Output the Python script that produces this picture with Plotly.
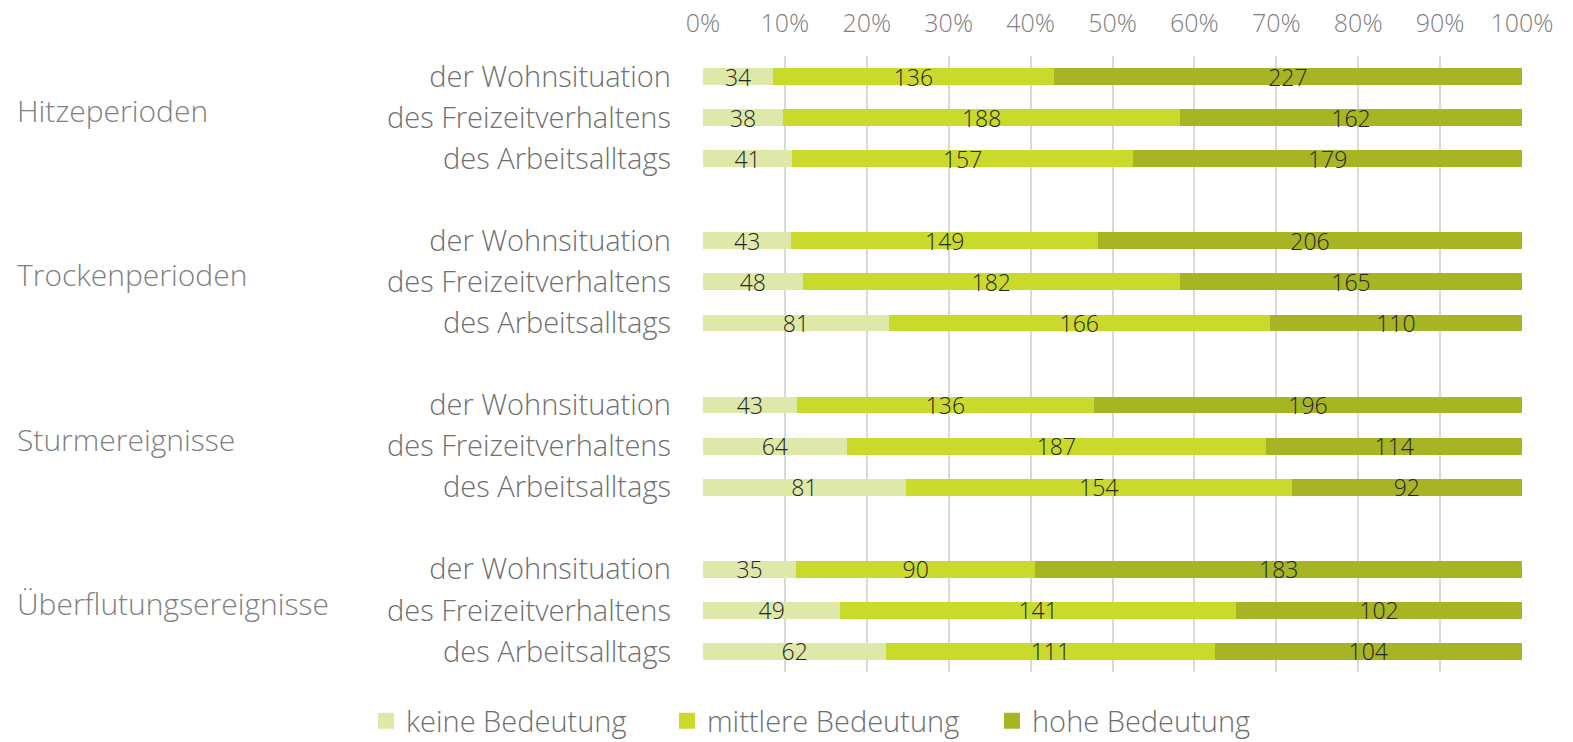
import plotly.graph_objects as go

groups = ["Hitzeperioden", "Trockenperioden", "Sturmereignisse", "Überflutungsereignisse"]
subcats = ["der Wohnsituation", "des Freizeitverhaltens", "des Arbeitsalltags"]
series_names = ["keine Bedeutung", "mittlere Bedeutung", "hohe Bedeutung"]
colors = ["#DDE8A9", "#CADA2C", "#A7B424"]

keine = [34, 38, 41, 43, 48, 81, 43, 64, 81, 35, 49, 62]
mittlere = [136, 188, 157, 149, 182, 166, 136, 187, 154, 90, 141, 111]
hohe = [227, 162, 179, 206, 165, 110, 196, 114, 92, 183, 102, 104]

tick_vals = [0, 10, 20, 30, 40, 50, 60, 70, 80, 90, 100]
tick_text = ["0%", "10%", "20%", "30%", "40%", "50%", "60%", "70%", "80%", "90%", "100%"]

FONT = "Open Sans"
W, H = 1573, 742
ML, MR, MT, MB = 695, 59, 48, 78
PW = W - ML - MR

ypos = []
ylabels = []
for gi, g in enumerate(groups):
    for si, s in enumerate(subcats):
        ypos.append(gi * 4 + si)
        ylabels.append(s)

fig = go.Figure()
for name, vals, col in zip(series_names, [keine, mittlere, hohe], colors):
    fig.add_trace(go.Bar(
        y=ypos, x=vals, orientation="h", name=name,
        marker=dict(color=col, line=dict(width=0)),
        width=0.41,
        text=vals, texttemplate="%{text}",
        textposition="inside", insidetextanchor="middle",
        constraintext="none", textangle=0,
        textfont=dict(family=FONT, size=23, color="#262626", weight=300),
        hoverinfo="skip", showlegend=False,
    ))

# legend entries (one legend per entry to place them like the original)
legend_x = [358, 659, 984]
legend_ids = ["legend", "legend2", "legend3"]
for name, col, lid in zip(series_names, colors, legend_ids):
    fig.add_trace(go.Scatter(
        x=[None], y=[None], mode="markers", name=name,
        marker=dict(symbol="square", size=17, color=col),
        legend=lid, showlegend=True, hoverinfo="skip",
    ))

for gi, g in enumerate(groups):
    fig.add_annotation(
        text=g, xref="paper", x=(7 - ML) / PW, xanchor="left",
        yref="y", y=gi * 4 + 0.83, yanchor="middle", showarrow=False,
        font=dict(family=FONT, size=30, color="#808080", weight=300),
    )

legend_style = dict(
    orientation="h", xref="container", yref="container",
    xanchor="left", y=1 - 713 / H, yanchor="middle",
    font=dict(family=FONT, size=29, color="#6F6F6F", weight=300),
    bgcolor="rgba(0,0,0,0)", itemsizing="trace",
)

fig.update_layout(
    barmode="stack", barnorm="percent",
    width=W, height=H,
    margin=dict(l=ML, r=MR, t=MT, b=MB, autoexpand=False),
    paper_bgcolor="white", plot_bgcolor="white",
    font=dict(family=FONT, color="#7F7F7F", weight=300),
    uniformtext=dict(mode="show", minsize=23),
    xaxis=dict(
        side="top", range=[0, 100], tickvals=tick_vals, ticktext=tick_text,
        showgrid=True, gridcolor="#D9D9D9", gridwidth=1.5,
        zeroline=False, showline=False, ticks="",
        tickfont=dict(family=FONT, size=25, color="#7F7F7F", weight=300),
        ticklabelstandoff=18, fixedrange=True,
    ),
    yaxis=dict(
        range=[14.5, -0.5], tickvals=ypos, ticktext=ylabels,
        showgrid=False, zeroline=False, showline=False, ticks="",
        tickfont=dict(family=FONT, size=29, color="#6F6F6F", weight=300),
        ticklabelstandoff=31, fixedrange=True,
    ),
    legend=dict(x=legend_x[0] / W, **legend_style),
    legend2=dict(x=legend_x[1] / W, **legend_style),
    legend3=dict(x=legend_x[2] / W, **legend_style),
    showlegend=True,
)

fig.write_html("out.html")
